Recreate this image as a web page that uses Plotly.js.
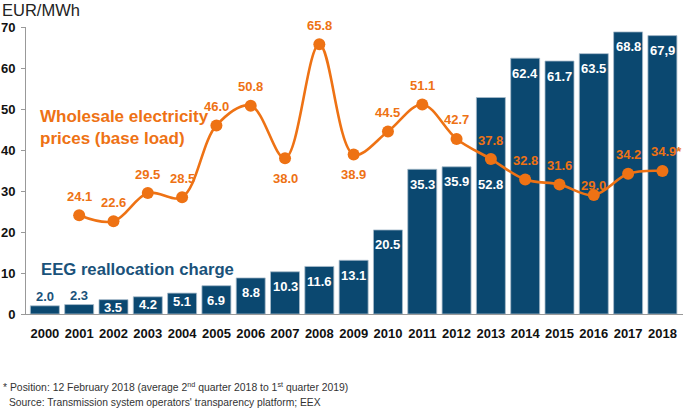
<!DOCTYPE html>
<html>
<head>
<meta charset="utf-8">
<script src="https://cdn.plot.ly/plotly-3.0.1.min.js"></script>
<style>html,body{margin:0;padding:0;background:#fff;}#chart{width:685px;height:408px;}</style>
</head>
<body>
<div id="chart"></div>
<script>
// ---- data ----
const years = ['2000','2001','2002','2003','2004','2005','2006','2007','2008','2009','2010','2011','2012','2013','2014','2015','2016','2017','2018'];
const eegCharge = [2.0,2.3,3.5,4.2,5.1,6.9,8.8,10.3,11.6,13.1,20.5,35.3,35.9,52.8,62.4,61.7,63.5,68.8,67.9];
const eegLabels = ['2.0','2.3','3.5','4.2','5.1','6.9','8.8','10.3','11.6','13.1','20.5','35.3','35.9','52.8','62.4','61.7','63.5','68.8','67,9'];
const priceYears = ['2001','2002','2003','2004','2005','2006','2007','2008','2009','2010','2011','2012','2013','2014','2015','2016','2017','2018'];
const wholesalePrice = [24.1,22.6,29.5,28.5,46.0,50.8,38.0,65.8,38.9,44.5,51.1,42.7,37.8,32.8,31.6,29.0,34.2,34.9];
const priceLabels = ['24.1','22.6','29.5','28.5','46.0','50.8','38.0','65.8','38.9','44.5','51.1','42.7','37.8','32.8','31.6','29.0','34.2','34.9*'];
const yTicks = [0,10,20,30,40,50,60,70];
const unitLabel = 'EUR/MWh';
const priceSeriesName = 'Wholesale electricity<br>prices (base load)';
const eegSeriesName = 'EEG reallocation charge';
const footnote = '* Position: 12 February 2018 (average 2<sup>nd</sup> quarter 2018 to 1<sup>st</sup> quarter 2019)';
const sourceNote = 'Source: Transmission system operators\' transparency platform; EEX';

// ---- style ----
const BLUE = '#0b4870';
const BLUE_TXT = '#1a527a';
const ORANGE = '#ee7214';
const FONT = 'Liberation Sans, Arial, sans-serif';
const W = 685, H = 408, L = 26, R = 2, T = 27, B = 94;
const PW = W - L - R, PH = H - T - B;
const px = p => (p - L) / PW;
const py = p => (H - B - p) / PH;

// numeric positions of categories on the axis
const xi = yr => years.indexOf(yr);
const barX = years.map(xi);
const priceX = priceYears.map(xi);

const annotations = [];

// bar labels
eegCharge.forEach((v, i) => {
  if (v < 3) {
    annotations.push({x: barX[i], y: v, xref: 'x', yref: 'y', text: eegLabels[i], showarrow: false,
      yanchor: 'middle', yshift: 9, font: {family: FONT, size: 13, color: BLUE_TXT, weight: 'bold'}});
  } else {
    const yv = (i === 13) ? eegCharge[11] : v;   // 2013 label sits low, under the price line
    annotations.push({x: barX[i], y: yv, xref: 'x', yref: 'y', text: eegLabels[i], showarrow: false,
      yanchor: 'middle', yshift: v < 6 ? -8 : -15, font: {family: FONT, size: 13, color: '#ffffff', weight: 'bold'}});
  }
});

// price labels
const below = {'2007': true, '2009': true};
wholesalePrice.forEach((v, i) => {
  const yr = priceYears[i];
  let ys = 19;
  if (below[yr]) ys = -20;
  if (yr === '2016') ys = 10;
  annotations.push({x: priceX[i], y: v, xref: 'x', yref: 'y', text: priceLabels[i], showarrow: false,
    yanchor: 'middle', yshift: ys, xshift: yr === '2018' ? 4 : 0,
    font: {family: FONT, size: 13, color: ORANGE, weight: 'bold'}});
});

// series names
annotations.push({xref: 'paper', yref: 'paper', x: px(38), y: py(127), xanchor: 'left', yanchor: 'middle', align: 'left',
  text: priceSeriesName, showarrow: false, font: {family: FONT, size: 17, color: ORANGE, weight: 'bold'}});
annotations.push({xref: 'paper', yref: 'paper', x: px(39), y: py(269), xanchor: 'left', yanchor: 'middle',
  text: eegSeriesName, showarrow: false, font: {family: FONT, size: 16.7, color: BLUE_TXT, weight: 'bold'}});

// unit + notes
annotations.push({xref: 'paper', yref: 'paper', x: px(0), y: py(10), xanchor: 'left', yanchor: 'middle',
  text: unitLabel, showarrow: false, font: {family: FONT, size: 16.5, color: '#222'}});
annotations.push({xref: 'paper', yref: 'paper', x: px(1), y: py(386), xanchor: 'left', yanchor: 'middle',
  text: footnote, showarrow: false, font: {family: FONT, size: 10.4, color: '#333'}});
annotations.push({xref: 'paper', yref: 'paper', x: px(7), y: py(402), xanchor: 'left', yanchor: 'middle',
  text: sourceNote, showarrow: false, font: {family: FONT, size: 10.3, color: '#333'}});

const traces = [
  {type: 'bar', x: barX, y: eegCharge, marker: {color: BLUE, line: {color: '#a9bccb', width: 0.8}},
   hoverinfo: 'skip', showlegend: false},
  {type: 'scatter', mode: 'lines+markers', x: priceX, y: wholesalePrice,
   line: {color: ORANGE, width: 2.6, shape: 'spline', smoothing: 1},
   marker: {color: ORANGE, size: 12}, hoverinfo: 'skip', showlegend: false, cliponaxis: false}
];

const layout = {
  width: W, height: H,
  margin: {l: L, r: R, t: T, b: B},
  paper_bgcolor: '#fff', plot_bgcolor: '#fff',
  bargap: 0.155,
  showlegend: false,
  xaxis: {type: 'linear', range: [-0.55, 18.6], tickvals: barX, ticktext: years,
    showgrid: false, zeroline: false,
    showline: true, linecolor: '#999', linewidth: 1, ticks: '', ticklabelstandoff: 7,
    tickfont: {family: FONT, size: 13, color: '#111', weight: 'bold'}},
  yaxis: {range: [0, 70], tickvals: yTicks, showgrid: false, zeroline: false,
    showline: true, linecolor: '#999', linewidth: 1, ticks: 'outside', ticklen: 4, tickcolor: '#999',
    ticklabelstandoff: 3,
    tickfont: {family: FONT, size: 13, color: '#111', weight: 'bold'}},
  annotations: annotations
};

Plotly.newPlot('chart', traces, layout, {displayModeBar: false, staticPlot: true});
</script>
</body>
</html>
